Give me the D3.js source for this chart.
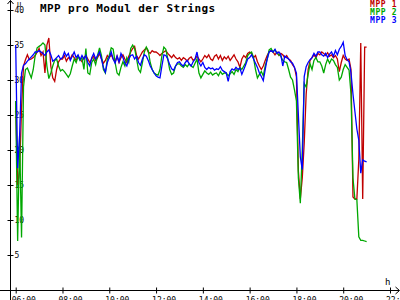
<!doctype html>
<html>
<head>
    <style>
        body { margin: 0; background: #fff; }
        text { font-family: "DejaVu Sans Mono", monospace; fill: #000; }
        .line { fill: none; stroke-width: 1.3; }
    </style>
    <script src="https://d3js.org/d3.v7.min.js"></script>
</head>
<body>
<svg width="400" height="300"></svg>
<script>
// tick labels
var xTicks = [6, 8, 10, 12, 14, 16, 18, 20, 22];
var yTicks = [5, 10, 15, 20, 25, 30, 35, 40];

// series names and colours
var names = ["MPP 1", "MPP 2", "MPP 3"];
var colors = ["#c00000", "#00a800", "#0000ff"];

// one value every 5 minutes, 06:00 .. 21:00 (one row = one hour)
var mpp1 = [
    27, 15, 17, 26, 32, 32.9, 33.6, 32.9, 33, 33.2, 33.5, 34,
    34.5, 33.5, 34, 31, 35, 36, 32, 30.3, 29.8, 31.5, 32.6, 33,
    33, 33.5, 32.7, 33.2, 33, 33.6, 33.2, 32.8, 33.4, 33, 32.6, 33.2,
    33.5, 33, 32.5, 33, 33.4, 32.8, 33.2, 33.8, 33, 32.4, 32.8, 33.5,
    33.2, 33.6, 33, 32.6, 33.4, 32.5, 33.2, 33.6, 33, 32.5, 33.4, 34,
    34.5, 34.8, 33.5, 33, 33.5, 34, 34.3, 34.6, 34, 33.8, 34.2, 34,
    34, 33.8, 33.5, 33.8, 34, 34.2, 33.8, 33.5, 33.2, 33.6, 33.2, 33,
    33.2, 32.8, 33.2, 33, 32.7, 33.1, 33.3, 32.8, 33, 33.4, 33, 32.6,
    33, 33.5, 33.2, 33.6, 33, 32.8, 33.4, 33.6, 33, 33.5, 32.8, 33.3,
    33, 33.4, 32.8, 33.2, 33.6, 33, 32.6, 31.8, 33, 33.5, 33.2, 33.8,
    34, 33.8, 33.2, 33.5, 32.6, 32, 31.5, 32, 32.8, 33.5, 34, 34.2,
    34, 33.6, 34, 33.5, 33.8, 33.6, 33.2, 33.5, 33, 32.8, 32.2, 31.8,
    30.5, 17, 13, 16, 21, 28, 31.5, 32.8, 33.2, 33.6, 33.2, 33.8,
    33.6, 34, 33.8, 33.5, 33.9, 33.4, 33.6, 33.2, 33.5, 33, 31.2, 32.5,
    33.5, 33, 32.8, 33, 31.5, 13.3, 13, 13, 18.6, 35.3, 13, 34.7,
    34.7
];
var mpp2 = [
    27, 7, 22, 7.5, 29, 31.5, 31.7, 31, 30.3, 31.5, 33.5, 34.6,
    34.8, 35, 35.3, 35, 32, 30.2, 31, 32, 32.8, 33, 32, 31.3,
    31.5, 31.2, 30.8, 30.4, 30.9, 32, 33, 32.5, 33.4, 32.8, 33.2, 31.5,
    34.5, 31, 30.8, 32.5, 33, 32.2, 33.5, 34.6, 33.5, 31.5, 31, 33,
    33.5, 34.6, 34.4, 32.5, 31, 30.7, 31.8, 32.6, 32, 33.2, 32.5, 34.5,
    35, 34.5, 33, 31.5, 31.1, 32.5, 34, 34.7, 34.2, 32.5, 31.5, 31,
    30.8, 30.7, 31.5, 33.5, 34.7, 34.4, 33, 31.5, 30.8, 31, 32, 32.3,
    32.3, 32, 31.8, 32.2, 31.9, 32.3, 32, 31.8, 32.4, 33, 31, 30.3,
    30.8, 31.3, 31, 30.8, 31.1, 30.7, 30.9, 31, 30.6, 31.2, 30.8, 31,
    31, 30.6, 30.9, 31.2, 30.8, 31.5, 31.2, 31.8, 31.5, 32, 32.5, 33.5,
    33.8, 34, 33.2, 31.5, 30.3, 30.8, 31.2, 30.6, 32, 33, 34.3, 34.5,
    34, 34.3, 33.8, 33.6, 33.4, 32.8, 32.6, 32.5, 31.5, 30.4, 30, 28.6,
    27, 16, 12.4, 20, 29.5, 29, 30.8, 32.3, 31.5, 32.8, 33.2, 32.6,
    32.6, 32, 31, 32.2, 33, 32.4, 33, 32.8, 32.2, 31.8, 30, 30.4,
    31.5, 32.2, 31.8, 31.4, 28, 16, 13, 12.9, 7.6, 7.1, 7.1, 7,
    6.9
];
var mpp3 = [
    35, 17.4, 22, 31, 32.1, 32.3, 32.7, 33, 33.3, 33.6, 34, 34,
    34.2, 34, 33.8, 33.5, 34, 34.3, 33.6, 32.7, 32.9, 33.2, 33.5, 33,
    33.2, 34, 33.4, 33.8, 32.8, 33.4, 34, 33.2, 33.6, 32.9, 33.5, 33,
    33.5, 32.5, 32, 33.2, 33.8, 33, 33.5, 34, 33, 31.8, 31.1, 32.5,
    33.2, 34, 33, 32.4, 33.4, 32.6, 33.8, 33.2, 32.4, 32, 33, 33.5,
    33.6, 33, 33.4, 32.5, 32.1, 33, 33.6, 33.4, 32.8, 32, 31.5, 31,
    30.6, 30.4, 30.3, 32, 33.6, 33.5, 33, 32.2, 31.6, 31.4, 32, 32.5,
    32.6, 32.2, 32, 32.5, 32.8, 32.3, 32, 32.6, 33, 34, 32.5, 32,
    32.5, 31.8, 31.5, 31.8, 31.6, 31.7, 31.4, 31.6, 31.5, 31.9, 31.4, 31.2,
    31, 29.8, 31.2, 31.6, 31.4, 31.8, 31.5, 31.7, 30.8, 31.5, 32.2, 33,
    33.2, 33.6, 33, 32.4, 31.8, 31, 30.5, 29.9, 31.5, 33, 34, 34.2,
    34, 34.4, 33.8, 34, 33.6, 32, 33.4, 33.2, 33, 32.6, 32.4, 31.8,
    31, 25, 19, 17.2, 30.5, 31.9, 32.5, 32.9, 33.2, 33.8, 33.4, 34,
    34, 33.6, 33.4, 33.8, 33.2, 33.7, 34, 33.4, 34.2, 33.6, 34.4, 34.8,
    35.4, 33.5, 32.9, 32.6, 31, 28, 25.5, 23, 21.4, 16.7, 18.6, 18.4,
    18.3
];

// sampling grid in hours
var times = mpp1.map(function(d, i) { return 6 + i * 5 / 60; });
var series = [mpp1, mpp2, mpp3];

var svg = d3.select("svg");

var xScale = d3.scaleLinear().domain([6, 22]).range([15.7, 390]),
    yScale = d3.scaleLinear().domain([0, 40]).range([290, 10]);

var axisX = 10.5, axisY = 290.5;

// x axis: ticks cross the line, labels start a bit left of the tick
var gx = svg.append("g")
    .attr("transform", "translate(0," + axisY + ")")
    .call(d3.axisBottom(xScale)
        .tickValues(xTicks)
        .tickSize(3)
        .tickPadding(3.5)
        .tickFormat(function(d) { return (d < 10 ? "0" : "") + d + ":00"; }));
gx.select(".domain").remove();
gx.selectAll(".tick line").attr("y1", -3).attr("stroke", "#000");
gx.selectAll(".tick text")
    .attr("text-anchor", "start")
    .attr("x", -4.5)
    .style("font-size", "8px")
    .style("font-family", "'DejaVu Sans Mono', monospace");

// y axis: labels on the right of the line
var gy = svg.append("g")
    .attr("transform", "translate(" + axisX + ",0)")
    .call(d3.axisRight(yScale)
        .tickValues(yTicks)
        .tickSize(3)
        .tickPadding(1));
gy.select(".domain").remove();
gy.selectAll(".tick line").attr("x1", -3).attr("stroke", "#000");
gy.selectAll(".tick text")
    .style("font-size", "8px")
    .style("font-family", "'DejaVu Sans Mono', monospace");

// axis lines with arrow heads
svg.append("path")
    .attr("d", "M0," + axisY + "H399 M395.5," + (axisY - 3.5) + "L399.5," + axisY + "L395.5," + (axisY + 3.5))
    .attr("fill", "none").attr("stroke", "#000");
svg.append("path")
    .attr("d", "M" + axisX + ",300V0.5 M" + (axisX - 3) + ",4L" + axisX + ",0.5L" + (axisX + 3) + ",4")
    .attr("fill", "none").attr("stroke", "#000");

// units
svg.append("text").attr("x", 17).attr("y", 6.5).style("font-size", "7px").text("U");
svg.append("text").attr("x", 385).attr("y", 284.5).style("font-size", "9px").text("h");

// the three MPP lines
var line = d3.line()
    .x(function(d, i) { return xScale(times[i]); })
    .y(function(d) { return yScale(d); });

svg.selectAll(".line")
    .data(series)
    .enter().append("path")
    .attr("class", "line")
    .attr("stroke", function(d, i) { return colors[i]; })
    .attr("d", line);

// title
svg.append("text")
    .attr("x", 40).attr("y", 12)
    .style("font-size", "11px")
    .style("font-weight", "bold")
    .style("letter-spacing", "0.4px")
    .text("MPP pro Modul der Strings");

// legend, top right
svg.selectAll(".legend")
    .data(names)
    .enter().append("text")
    .attr("class", "legend")
    .attr("x", 370)
    .attr("y", function(d, i) { return 7 + i * 8; })
    .style("font-size", "8px")
    .style("font-weight", "bold")
    .style("letter-spacing", "0.6px")
    .style("fill", function(d, i) { return colors[i]; })
    .text(function(d) { return d; });
</script>
</body>
</html>
